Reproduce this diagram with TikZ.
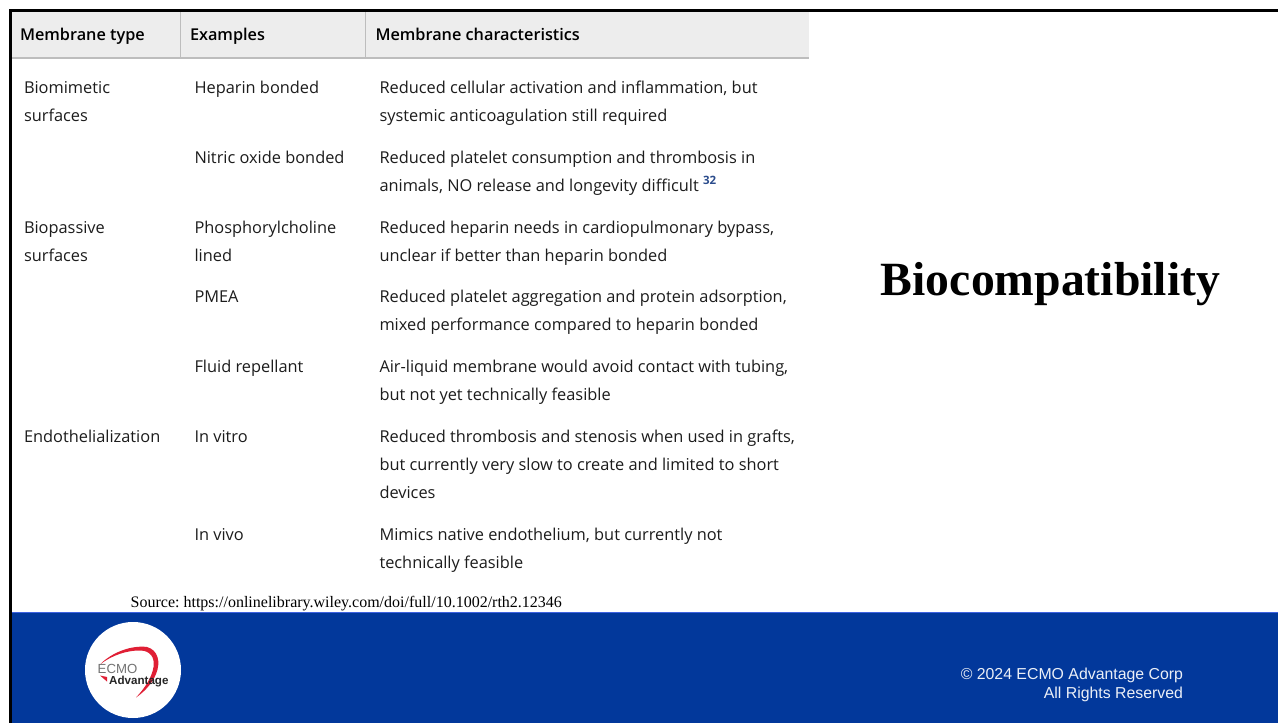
\documentclass[tikz,border=0pt]{standalone}
\usepackage{fontspec}
\setmainfont{Open Sans}
\newfontfamily\lib{Liberation Sans}
\newfontfamily\libs{Liberation Serif}
\definecolor{band}{HTML}{02389B}
\definecolor{bandline}{HTML}{3D62E0}
\definecolor{headbg}{HTML}{EDEDED}
\definecolor{headln}{HTML}{BDBDBD}
\definecolor{txt}{HTML}{1C1C1C}
\definecolor{swoosh}{HTML}{E01F35}
\definecolor{supc}{HTML}{2B4C8C}
\AtBeginDocument{\frenchspacing}
\tikzset{
  cell/.style={anchor=base west,inner sep=0pt,outer sep=0pt,font=\fontsize{16.36}{20}\selectfont,text=txt},
  head/.style={anchor=base west,inner sep=0pt,outer sep=0pt,font=\fontsize{16.28}{20}\selectfont\fontspec{Open Sans Semibold},text=black},
  foot/.style={anchor=base east,inner sep=0pt,outer sep=0pt,font=\lib\fontsize{15.85}{18}\selectfont,text=white!92!band}
}
\begin{document}
\begin{tikzpicture}[x=1pt,y=-1pt]
\useasboundingbox (0,0) rectangle (1278,723);
\fill[white] (0,0) rectangle (1278,723);
% header
\fill[headbg] (12,12) rectangle (809,57);
\fill[headln] (12,57) rectangle (809,58.7);
\fill[headln] (179.5,12) rectangle (181,57);
\fill[headln] (364.5,12) rectangle (366,57);
% band
\fill[band] (12,613) rectangle (1278,723);
\fill[bandline] (12,612) rectangle (1278,613.2);
% frame
\fill[black] (8.8,9) rectangle (1278,12.3);
\fill[black] (8.8,9) rectangle (12.2,723);
% headers
\node[head] (h1) at (20,40.5) {Membrane type};
\node[head] (h2) at (190,40.5) {Examples};
\node[head] (h3) at (375.5,40.5) {Membrane characteristics};
% column 1
\node[cell] (a1) at (24,93) {Biomimetic};
\node[cell] (a2) at (24,121) {surfaces};
\node[cell] (a3) at (24,233) {Biopassive};
\node[cell] (a4) at (24,261) {surfaces};
\node[cell] (a5) at (24,442) {Endothelialization};
% column 2
\node[cell] (b1) at (194.5,93) {Heparin bonded};
\node[cell] (b2) at (194.5,163) {Nitric oxide bonded};
\node[cell] (b3) at (194.5,233) {Phosphorylcholine};
\node[cell] (b4) at (194.5,261) {lined};
\node[cell] (b5) at (194.5,302) {PMEA};
\node[cell] (b6) at (194.5,372) {Fluid repellant};
\node[cell] (b7) at (194.5,442) {In vitro};
\node[cell] (b8) at (194.5,540) {In vivo};
% column 3
\node[cell] (c1) at (379.5,93) {Reduced cellular activation and inflammation, but};
\node[cell] (c2) at (379.5,121) {systemic anticoagulation still required};
\node[cell] (c3) at (379.5,163) {Reduced platelet consumption and thrombosis in};
\node[cell] (c4) at (379.5,191) {animals, NO release and longevity difficult \textcolor{supc}{\raisebox{7pt}{\fontsize{11.5}{12}\selectfont\fontspec{Open Sans Bold}32}}};
\node[cell] (c5) at (379.5,233) {Reduced heparin needs in cardiopulmonary bypass,};
\node[cell] (c6) at (379.5,261) {unclear if better than heparin bonded};
\node[cell] (c7) at (379.5,302) {Reduced platelet aggregation and protein adsorption,};
\node[cell] (c8) at (379.5,330) {mixed performance compared to heparin bonded};
\node[cell] (c9) at (379.5,372) {Air-liquid membrane would avoid contact with tubing,};
\node[cell] (c10) at (379.5,400) {but not yet technically feasible};
\node[cell] (c11) at (379.5,442) {Reduced thrombosis and stenosis when used in grafts,};
\node[cell] (c12) at (379.5,470) {but currently very slow to create and limited to short};
\node[cell] (c13) at (379.5,498) {devices};
\node[cell] (c14) at (379.5,540) {Mimics native endothelium, but currently not};
\node[cell] (c15) at (379.5,568) {technically feasible};
% title
\node[anchor=base,inner sep=0pt,font=\libs\bfseries\fontsize{47.7}{50}\selectfont] (title) at (1050.5,295) {Biocompatibility};
% source
\node[anchor=base west,inner sep=0pt,font=\libs\fontsize{16}{16}\selectfont] (src) at (130.5,607.5) {Source: https://onlinelibrary.wiley.com/doi/full/10.1002/rth2.12346};
% footer
\node[foot] (f1) at (1183,679) {© 2024 ECMO Advantage Corp};
\node[foot] (f2) at (1183,698) {All Rights Reserved};
% logo
\fill[white] (133,670) circle (48);
\fill[swoosh] (100,664.5) .. controls (112,652) and (132,645) .. (147,647) .. controls (158,650) and (161,662) .. (156,674) .. controls (152,684) and (144,692) .. (136,697.5) .. controls (145,688) and (152,677) .. (153.5,667) .. controls (155,657) and (150,651) .. (141,650.5) .. controls (128,650) and (112,655) .. (100,664.5) -- cycle;
\fill[swoosh] (100,675.5) -- (107,677) -- (107,681.5) -- cycle;
\node[anchor=base west,inner sep=0pt,font=\lib\fontsize{13.2}{14}\selectfont,text=black!55] (l1) at (97.5,673.5) {ECMO};
\node[anchor=base west,inner sep=0pt,font=\lib\bfseries\fontsize{11.6}{14}\selectfont,text=black!85] (l2) at (109,684) {Advantage};
\end{tikzpicture}
\end{document}
